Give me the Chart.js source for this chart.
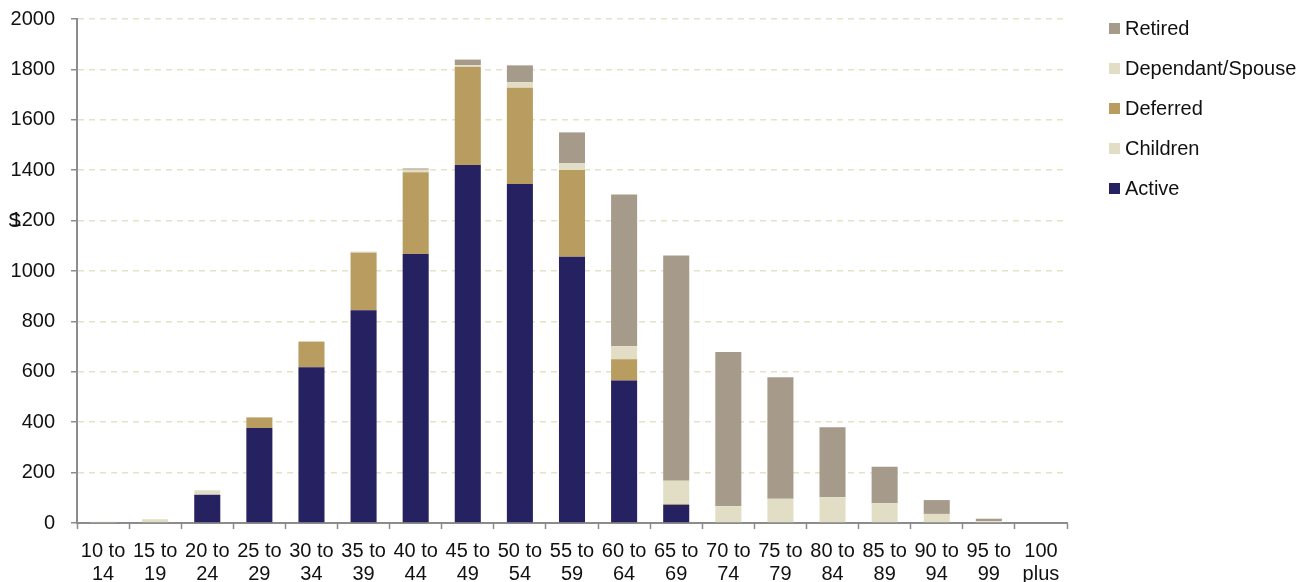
<!DOCTYPE html>
<html>
<head>
<meta charset="utf-8">
<script src="https://cdn.jsdelivr.net/npm/chart.js@4/dist/chart.umd.min.js"></script>
<style>
  html, body { margin: 0; padding: 0; background: #fff; }
  #wrap { position: relative; width: 1309px; height: 582px; }
  #legend { position: absolute; left: 1109px; top: 16px; font: 20px "Liberation Sans", Arial, sans-serif; color: #111; }
  #legend .item { display: flex; align-items: center; height: 24px; margin-bottom: 16px; }
  #legend .box { width: 11px; height: 11px; margin-right: 5px; }
</style>
</head>
<body>
<div id="wrap">
  <canvas id="chart" width="1309" height="582"></canvas>
  <div id="legend"></div>
</div>
<script>
// Age bands of scheme members
const ageBands = [
  ["10 to", "14"], ["15 to", "19"], ["20 to", "24"], ["25 to", "29"], ["30 to", "34"],
  ["35 to", "39"], ["40 to", "44"], ["45 to", "49"], ["50 to", "54"], ["55 to", "59"],
  ["60 to", "64"], ["65 to", "69"], ["70 to", "74"], ["75 to", "79"], ["80 to", "84"],
  ["85 to", "89"], ["90 to", "94"], ["95 to", "99"], ["100", "plus"]
];

// Member counts per status, one value per age band
const active    = [0, 0, 112, 377, 618, 844, 1067, 1421, 1345, 1057, 565, 72, 0, 0, 0, 0, 0, 0, 0];
const children  = [5, 15, 18, 0, 0, 0, 0, 0, 0, 0, 0, 0, 0, 0, 0, 0, 0, 0, 0];
const deferred  = [0, 0, 0, 42, 102, 228, 325, 390, 382, 344, 85, 4, 0, 0, 0, 0, 0, 0, 0];
const dependant = [0, 0, 0, 0, 0, 2, 10, 6, 22, 26, 52, 92, 67, 96, 102, 78, 36, 7, 0];
const retired   = [0, 0, 0, 0, 0, 2, 5, 22, 67, 123, 602, 894, 612, 482, 278, 145, 55, 10, 0];

// Value axis ticks
const yTicks = [0, 200, 400, 600, 800, 1000, 1200, 1400, 1600, 1800, 2000];

const colors = {
  active: "#262262",
  children: "#E2DEC6",
  deferred: "#B89C60",
  dependant: "#E2DEC6",
  retired: "#A69B8A"
};

const FONT = "Liberation Sans, Arial, sans-serif";
const AXIS_GREY = "#8c8c8c";

const datasets = [
  { label: "Active", data: active, backgroundColor: colors.active },
  { label: "Children", data: children, backgroundColor: colors.children },
  { label: "Deferred", data: deferred, backgroundColor: colors.deferred },
  { label: "Dependant/Spouse", data: dependant, backgroundColor: colors.dependant },
  { label: "Retired", data: retired, backgroundColor: colors.retired }
].map(d => Object.assign(d, { barPercentage: 0.5, categoryPercentage: 1.0, borderWidth: 0 }));

// Stray axis-title glyph drawn left of the value labels
const axisGlyph = {
  id: "axisGlyph",
  afterDraw(chart) {
    const ctx = chart.ctx;
    const y = chart.scales.y.getPixelForValue(1200);
    ctx.save();
    ctx.font = "20px " + FONT;
    ctx.fillStyle = "#111";
    ctx.textBaseline = "middle";
    ctx.fillText("S", 8, y + 1);
    ctx.restore();
  }
};

const chart = new Chart(document.getElementById("chart"), {
  type: "bar",
  data: { labels: ageBands, datasets },
  options: {
    responsive: false,
    animation: false,
    layout: { padding: { top: 19, right: 242, bottom: 0, left: 0 } },
    plugins: {
      legend: { display: false },
      tooltip: { enabled: false }
    },
    scales: {
      x: {
        stacked: true,
        offset: true,
        afterFit(scale) { scale.height = 59; },
        grid: {
          display: true,
          drawOnChartArea: false,
          drawTicks: true,
          tickLength: 6,
          tickColor: AXIS_GREY,
          tickWidth: 1.5,
          offset: true
        },
        border: { display: true, color: AXIS_GREY, width: 2 },
        ticks: {
          autoSkip: false,
          maxRotation: 0,
          minRotation: 0,
          padding: 11,
          color: "#111",
          font: { family: FONT, size: 20, lineHeight: 1.15 }
        }
      },
      y: {
        stacked: true,
        min: 0,
        max: 2000,
        afterBuildTicks(scale) {
          scale.ticks = yTicks.map(v => ({ value: v }));
        },
        afterFit(scale) {
          scale.width = 77;
          scale.paddingTop = 0;
          scale.paddingBottom = 0;
        },
        grid: {
          color: "#E6E2C8",
          lineWidth: 1.5,
          tickLength: 6,
          tickColor: AXIS_GREY,
          tickWidth: 1.5
        },
        border: { display: true, color: AXIS_GREY, width: 2, dash: [6, 5] },
        ticks: {
          padding: 16,
          color: "#111",
          font: { family: FONT, size: 20 },
          callback: v => String(v)
        }
      }
    }
  },
  plugins: [axisGlyph]
});

// Legend listed top-down in reverse stacking order
const legendEl = document.getElementById("legend");
datasets.slice().reverse().forEach(d => {
  const item = document.createElement("div");
  item.className = "item";
  const box = document.createElement("span");
  box.className = "box";
  box.style.background = d.backgroundColor;
  const text = document.createElement("span");
  text.textContent = d.label;
  item.appendChild(box);
  item.appendChild(text);
  legendEl.appendChild(item);
});
</script>
</body>
</html>
